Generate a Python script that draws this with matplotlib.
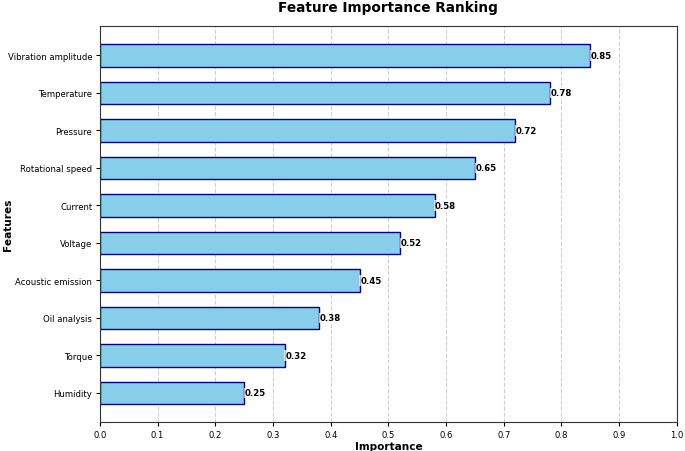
import numpy as np
import matplotlib.pyplot as plt

features = ['Vibration amplitude', 'Temperature', 'Pressure', 'Rotational speed',
            'Current', 'Voltage', 'Acoustic emission', 'Oil analysis', 'Torque', 'Humidity']
importance = [0.85, 0.78, 0.72, 0.65, 0.58, 0.52, 0.45, 0.38, 0.32, 0.25]

# plot from bottom to top so the largest is on top
feats = features[::-1]
vals = importance[::-1]

fig, ax = plt.subplots(figsize=(6.85, 4.52), dpi=100)
fig.subplots_adjust(left=0.146, right=0.988, top=0.94, bottom=0.064)

bars = ax.barh(feats, vals, height=0.6, color='skyblue', edgecolor='navy', linewidth=1)

for b, v in zip(bars, vals):
    ax.text(v + 0.001, b.get_y() + b.get_height() / 2, f'{v:.2f}',
            va='center', ha='left', fontsize=6.2, fontweight='bold',
            bbox=dict(facecolor='white', edgecolor='none', alpha=0.7, pad=0.5))

ax.set_xlim(0, 1.0)
ax.set_xticks(np.arange(0, 1.01, 0.1))
ax.tick_params(labelsize=6.1, length=3, pad=2.5)
for s in ax.spines.values():
    s.set_color('#333333')
ax.grid(axis='x', linestyle='--', alpha=0.6)
ax.set_axisbelow(True)
ax.set_xlabel('Importance', fontsize=7.6, fontweight='bold', labelpad=2)
ax.set_ylabel('Features', fontsize=7.6, fontweight='bold')
ax.yaxis.set_label_coords(-0.151, 0.5)
ax.set_title('Feature Importance Ranking', fontsize=9.8, fontweight='bold', pad=11)

plt.savefig('out.png', dpi=100)
